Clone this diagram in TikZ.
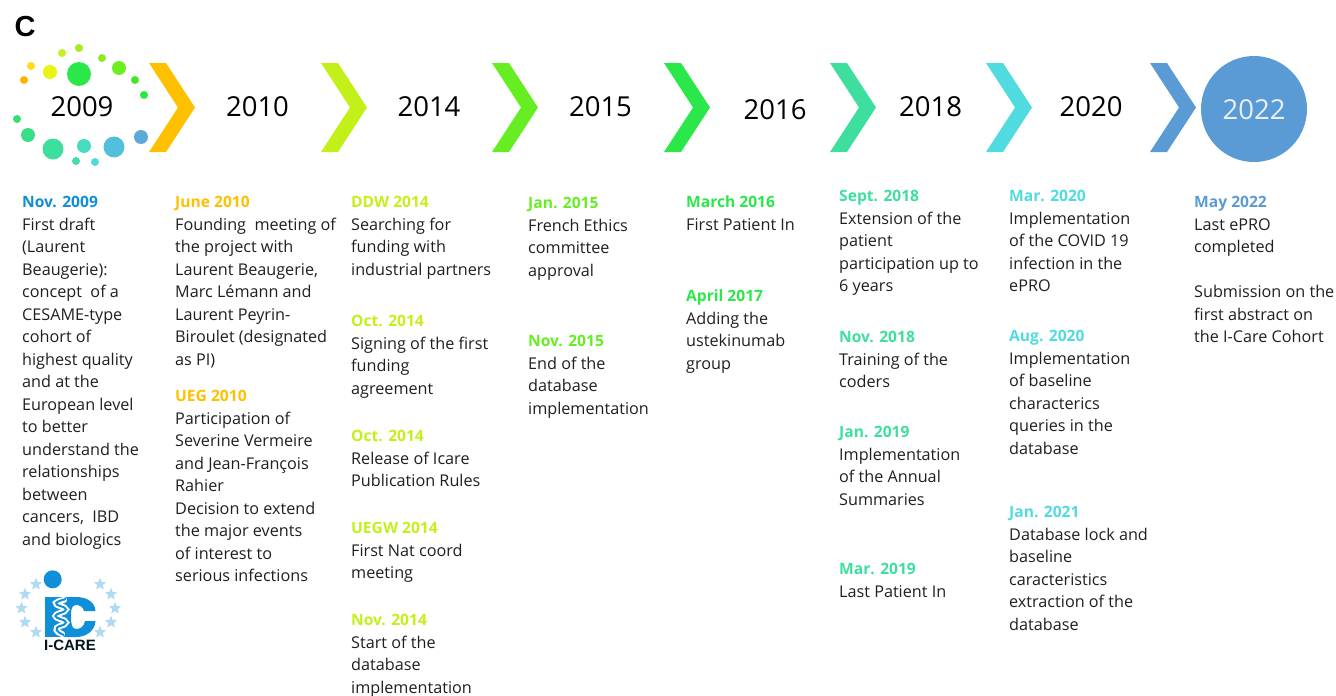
\documentclass[tikz,border=0pt]{standalone}
\usepackage{fontspec}
\setmainfont{Open Sans}
\newfontfamily\labelfont{Liberation Sans}
\definecolor{cA}{HTML}{0E8FD8}
\definecolor{cB}{HTML}{FFC000}
\definecolor{cC}{HTML}{C4F01A}
\definecolor{cD}{HTML}{66EE22}
\definecolor{cE}{HTML}{2BE84A}
\definecolor{cF}{HTML}{3EDF9E}
\definecolor{cG}{HTML}{50DBE0}
\definecolor{cH}{HTML}{5B9BD5}
\definecolor{starc}{HTML}{B0DAF2}
\definecolor{logo}{HTML}{0E8FD8}
\tikzset{
  x=1pt,y=-1pt,
  block/.style={anchor=north west,inner sep=0pt,align=left,font=\fontsize{16.2pt}{22.5pt}\selectfont,text=black!88},
  year/.style={inner sep=0pt,font=\fontsize{27.5pt}{30pt}\selectfont,text=black}
}
\newcommand{\ttl}[2]{\rule{0pt}{16pt}{\color{#1}\bfseries\fontsize{15.6pt}{22.5pt}\selectfont #2}}
\newcommand{\chev}[2]{\fill[#2] (#1,63) -- ++(17,0) -- ++(29,44.5) -- ++(-29,44.5) -- ++(-17,0) -- ++(29,-44.5) -- cycle;}
\newcommand{\lstar}[2]{\fill[starc] (#1,#2) ++(0,-6.2) -- ++(1.7,4.1) -- ++(4.3,0.4) -- ++(-3.3,2.8) -- ++(1.1,4.3) -- ++(-3.8,-2.3) -- ++(-3.8,2.3) -- ++(1.1,-4.3) -- ++(-3.3,-2.8) -- ++(4.3,-0.4) -- cycle;}
\begin{document}
\begin{tikzpicture}
\useasboundingbox (0,0) rectangle (1336,696);
\node[inner sep=0pt,font=\labelfont\bfseries\fontsize{29pt}{29pt}\selectfont] (panel) at (25,27) {C};
\foreach \px/\py/\d/\c in {
 24/80/8/FFB300, 31/66/8/FFD91A, 50/72/14/E8F510, 62/53/8/C4F020, 79/48/8/A8EC20,
 79/74/24/2BE84A, 102/58/8/88EC20, 119/68/14/6CEE20, 135/80/8/45E828, 144/95/8/2BE840,
 17/119/8/35E070, 28/135/14/38DE88, 53/149/21/3EDF9E, 84/146/14/48DCC0, 76/161/8/45DDB0,
 95/162/8/50DBD8, 114/147/21/52C0DC, 141/137/14/5BA9D8}{
  \definecolor{tmpc}{HTML}{\c}
  \fill[tmpc] (\px,\py) circle ({\d/2});
}
\chev{149}{cB}
\chev{321}{cC}
\chev{492}{cD}
\chev{664}{cE}
\chev{830}{cF}
\chev{986}{cG}
\chev{1150}{cH}
\node[circle,fill=cH,minimum size=106pt,inner sep=0pt] (c22) at (1254,109) {};
\node[year] (y09) at (82,107) {2009};
\node[year] (y10) at (257.5,107) {2010};
\node[year] (y14) at (429,107) {2014};
\node[year] (y15) at (600.5,107) {2015};
\node[year] (y16) at (775,110) {2016};
\node[year] (y18) at (930.5,107) {2018};
\node[year] (y20) at (1091,107) {2020};
\node[year,text=white!85!cH] (y22) at (1254,110) {2022};
\node[block] (a1) at (22,191.5) {\ttl{cA}{Nov. 2009}\\First draft\\(Laurent\\Beaugerie):\\concept\ \ of a\\CESAME-type\\cohort of\\highest quality\\and at the\\European level\\to better\\understand the\\relationships\\between\\cancers,\ \ IBD\\and biologics};
\node[block] (b1) at (175,191.5) {\ttl{cB}{June 2010}\\Founding\ \ meeting of\\the project with\\Laurent Beaugerie,\\Marc Lémann and\\Laurent Peyrin-\\Biroulet (designated\\as PI)};
\node[block] (b2) at (175,385.5) {\ttl{cB}{UEG 2010}\\Participation of\\Severine Vermeire\\and Jean-François\\Rahier\\Decision to extend\\the major events\\of interest to\\serious infections};
\node[block] (c1) at (351,191.5) {\ttl{cC}{DDW 2014}\\Searching for\\funding with\\industrial partners};
\node[block] (c2) at (351,310.5) {\ttl{cC}{Oct. 2014}\\Signing of the first\\funding\\agreement};
\node[block] (c3) at (351,425.5) {\ttl{cC}{Oct. 2014}\\Release of Icare\\Publication Rules};
\node[block] (c4) at (351,517.5) {\ttl{cC}{UEGW 2014}\\First Nat coord\\meeting};
\node[block] (c5) at (351,609.5) {\ttl{cC}{Nov. 2014}\\Start of the\\database\\implementation};
\node[block] (d1) at (528,192.5) {\ttl{cD}{Jan. 2015}\\French Ethics\\committee\\approval};
\node[block] (d2) at (528,330.5) {\ttl{cD}{Nov. 2015}\\End of the\\database\\implementation};
\node[block] (e1) at (686,191.5) {\ttl{cE}{March 2016}\\First Patient In};
\node[block] (e2) at (686,285.5) {\ttl{cE}{April 2017}\\Adding the\\ustekinumab\\group};
\node[block] (f1) at (839,185.5) {\ttl{cF}{Sept. 2018}\\Extension of the\\patient\\participation up to\\6 years};
\node[block] (f2) at (839,326.5) {\ttl{cF}{Nov. 2018}\\Training of the\\coders};
\node[block] (f3) at (839,421.5) {\ttl{cF}{Jan. 2019}\\Implementation\\of the Annual\\Summaries};
\node[block] (f4) at (839,558.5) {\ttl{cF}{Mar. 2019}\\Last Patient In};
\node[block] (g1) at (1009,185.5) {\ttl{cG}{Mar. 2020}\\Implementation\\of the COVID 19\\infection in the\\ePRO};
\node[block] (g2) at (1009,325.5) {\ttl{cG}{Aug. 2020}\\Implementation\\of baseline\\characterics\\queries in the\\database};
\node[block] (g3) at (1009,501.5) {\ttl{cG}{Jan. 2021}\\Database lock and\\baseline\\caracteristics\\extraction of the\\database};
\node[block] (h1) at (1194,191.5) {\ttl{cH}{May 2022}\\Last ePRO\\completed\\[22.5pt]Submission on the\\first abstract on\\the I-Care Cohort};
% logo
\fill[logo] (52.7,579.3) circle (9);
\lstar{36}{584}\lstar{25}{594}\lstar{21.5}{608}\lstar{25}{622}\lstar{36}{632}
\lstar{100}{584}\lstar{111}{594}\lstar{115}{608}\lstar{111}{622}\lstar{100}{632}
\fill[logo] (45,597) rectangle (66,637);
\fill[logo] (66,597) -- (76,597)
  .. controls (88,597) and (95,603) .. (95.5,611) -- (84,611) .. controls (83,607) and (80,605) .. (76,605)
  .. controls (71,605) and (71,611) .. (71,617) .. controls (71,624) and (72,629) .. (76,629)
  .. controls (80,629) and (84,627) .. (85,621) -- (95.5,621) .. controls (95,631) and (86,637) .. (76,637)
  -- (66,637) -- cycle;
\draw[white,line width=6pt,line cap=round] (64,600) .. controls (54,602) and (54,604) .. (60,606) .. controls (68,608) and (68,611) .. (60,613) .. controls (54,615) and (54,617) .. (60,619) .. controls (68,621) and (68,624) .. (60,626) .. controls (54,628) and (56,632) .. (62,634);
\draw[logo,line width=2pt] (66,599) .. controls (54,602) and (54,604) .. (60,606) .. controls (68,608) and (68,611) .. (60,613) .. controls (54,615) and (54,617) .. (60,619) .. controls (68,621) and (68,624) .. (60,626) .. controls (54,628) and (56,632) .. (64,635);
\node[inner sep=0pt,font=\labelfont\bfseries\fontsize{15pt}{15pt}\selectfont,text=black!85!logo] (icare) at (70,645) {I-CARE};
\end{tikzpicture}
\end{document}
